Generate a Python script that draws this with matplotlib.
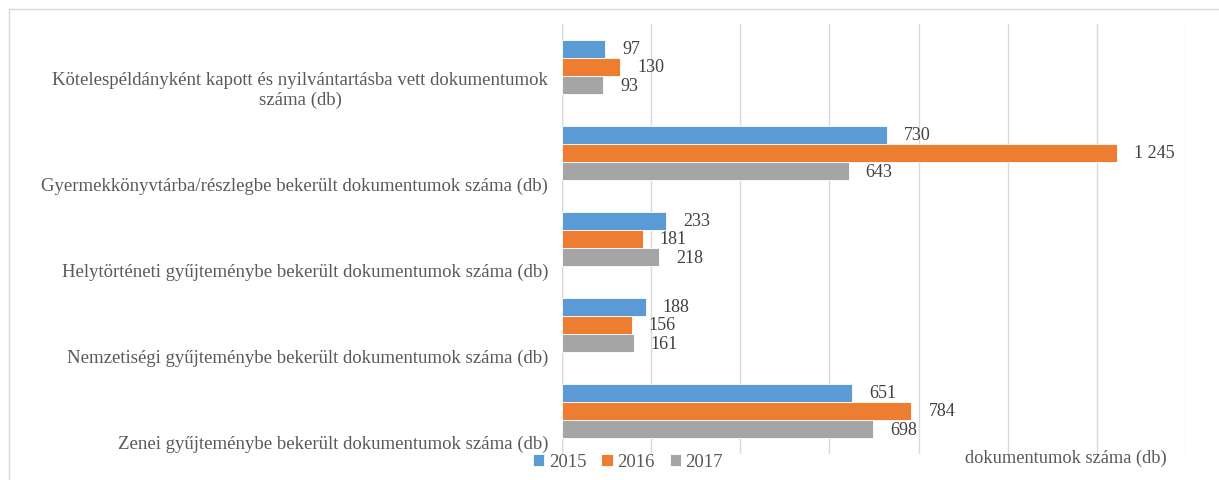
import numpy as np
import matplotlib.pyplot as plt
from matplotlib.patches import Rectangle

categories = [
    'Kötelespéldányként kapott és nyilvántartásba vett dokumentumok\nszáma (db)',
    'Gyermekkönyvtárba/részlegbe bekerült dokumentumok száma (db)',
    'Helytörténeti gyűjteménybe bekerült dokumentumok száma (db)',
    'Nemzetiségi gyűjteménybe bekerült dokumentumok száma (db)',
    'Zenei gyűjteménybe bekerült dokumentumok száma (db)',
]
years = ['2015', '2016', '2017']
values_2015 = [97, 730, 233, 188, 651]
values_2016 = [130, 1245, 181, 156, 784]
values_2017 = [93, 643, 218, 161, 698]
colors = ['#5B9BD5', '#ED7D31', '#A5A5A5']

plt.rcParams['font.family'] = ['Liberation Serif', 'DejaVu Serif']

fig = plt.figure(figsize=(12.19, 4.81), dpi=100)
ax = fig.add_axes([562 / 1219, 1 - 455 / 481, (1186 - 562) / 1219, 430 / 481])

# outer frame of the chart area
fig.patches.append(Rectangle((9 / 1219, -0.05), 1.1, 1 - 10 / 481 + 0.05,
                             transform=fig.transFigure, fill=False,
                             edgecolor='#d9d9d9', linewidth=1))

y = np.arange(len(categories))
bar_h = 0.213
series = [values_2015, values_2016, values_2017]
for i, (vals, col, yr) in enumerate(zip(series, colors, years)):
    pos = y + (i - 1) * bar_h
    ax.barh(pos, vals, height=bar_h, color=col, edgecolor='white',
            linewidth=0.6, label=yr, zorder=3)
    for p, v in zip(pos, vals):
        txt = '{:,}'.format(v).replace(',', ' ')
        ax.annotate(txt, xy=(v, p), xytext=(17, 0), textcoords='offset pixels',
                    ha='left', va='center', fontsize=13, color='#404040')

ax.set_xlim(0, 1400)
ax.set_ylim(len(categories) - 0.5, -0.5)
ax.set_xticks(np.arange(0, 1401, 200))
ax.set_xticklabels([])
ax.set_yticks([])
ax.tick_params(length=0)
ax.grid(axis='x', color='#d9d9d9', linewidth=1, zorder=0)
for s in ax.spines.values():
    s.set_visible(False)
ax.axvline(0, color='#d9d9d9', linewidth=1, zorder=1)

for yi, lab in zip(y, categories):
    ax.annotate(lab, xy=(0, yi), xycoords=ax.get_yaxis_transform(),
                xytext=(-14, -41), textcoords='offset pixels',
                ha='right', va='bottom', multialignment='center',
                fontsize=13.5, color='#595959')

fig.text(1066 / 1219, 1 - 458 / 481, 'dokumentumok száma (db)',
         ha='center', va='center', fontsize=13.2, color='#595959')

fig.legend(loc='center', bbox_to_anchor=(628 / 1219, 1 - 463 / 481), ncol=3,
           frameon=False, fontsize=13.5, handlelength=0.6, handleheight=0.6,
           handletextpad=0.25, columnspacing=0.8, labelcolor='#595959')

fig.savefig('out.png', dpi=100)
